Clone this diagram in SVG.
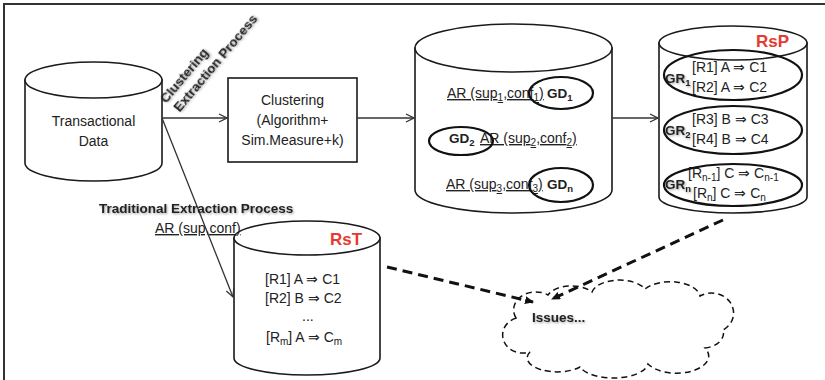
<svg xmlns="http://www.w3.org/2000/svg" width="825" height="380" viewBox="0 0 825 380">
<style>
  text { font-family: "Liberation Sans", Arial, sans-serif; fill: #222; }
  .t { font-size: 14px; }
  .b { font-size: 13.5px; font-weight: bold; }
  .red { font-size: 17px; font-weight: bold; fill: #e53a32; }
  .u { text-decoration: underline; }
  .shape { fill: #fff; stroke: #1a1a1a; stroke-width: 1.6; }
  .ring { fill: none; stroke: #111; stroke-width: 2.2; }
  .conn { fill: none; stroke: #333; stroke-width: 1.3; }
  .dash { fill: none; stroke: #111; stroke-width: 3; stroke-dasharray: 10 6; }
  .sh { filter: url(#shadow); }
</style>
<defs>
  <marker id="open" markerWidth="10" markerHeight="10" refX="9" refY="5" orient="auto" markerUnits="userSpaceOnUse">
    <path d="M1,1 L9,5 L1,9" fill="none" stroke="#333" stroke-width="1.3"/>
  </marker>
  <marker id="tri" markerWidth="10" markerHeight="10" refX="8" refY="4" orient="auto" markerUnits="userSpaceOnUse">
    <path d="M0,0 L9,4 L0,8 Z" fill="#111"/>
  </marker>
  <filter id="shadow" x="-10%" y="-30%" width="120%" height="160%">
    <feDropShadow dx="1" dy="1.2" stdDeviation="1" flood-color="#000" flood-opacity="0.35"/>
  </filter>
</defs>

<g id="frame">
  <path d="M4,380 L4,4 L825,4" fill="none" stroke="#333" stroke-width="2"/>
</g>

<g id="transactional-data">
  <path class="shape" d="M25,80 L25,163 A68.5,18 0 0 0 162,163 L162,80 Z"/>
  <ellipse class="shape" cx="93.5" cy="80" rx="68.5" ry="18"/>
  <text class="t" x="93.5" y="126" text-anchor="middle">Transactional</text>
  <text class="t" x="93.5" y="146" text-anchor="middle">Data</text>
</g>

<g id="clustering">
  <rect class="shape" x="228" y="78" width="129" height="84"/>
  <text class="t" x="292.5" y="105" text-anchor="middle">Clustering</text>
  <text class="t" x="292.5" y="125" text-anchor="middle">(Algorithm+</text>
  <text class="t" x="292.5" y="145" text-anchor="middle">Sim.Measure+k)</text>
</g>

<g id="grouped-db">
  <path class="shape" d="M415,48 L415,190 A98.5,23 0 0 0 612,190 L612,48 Z"/>
  <ellipse class="shape" cx="513.5" cy="48" rx="98.5" ry="24"/>
  <text class="t u" x="447" y="98">AR (sup<tspan dy="3" font-size="10">1</tspan><tspan dy="-3">,conf</tspan><tspan dy="3" font-size="10">1</tspan><tspan dy="-3">)</tspan></text>
  <text class="b" x="547" y="98">GD<tspan dy="3" font-size="9.5">1</tspan></text>
  <ellipse class="ring" cx="561" cy="93" rx="32" ry="16"/>
  <text class="b" x="449" y="143">GD<tspan dy="3" font-size="9.5">2</tspan></text>
  <text class="t u" x="480" y="143">AR (sup<tspan dy="3" font-size="10">2</tspan><tspan dy="-3">,conf</tspan><tspan dy="3" font-size="10">2</tspan><tspan dy="-3">)</tspan></text>
  <ellipse class="ring" cx="461" cy="141" rx="32" ry="14"/>
  <text class="t u" x="446" y="189">AR (sup<tspan dy="3" font-size="10">3</tspan><tspan dy="-3">,conf</tspan><tspan dy="3" font-size="10">3</tspan><tspan dy="-3">)</tspan></text>
  <text class="b" x="547" y="189">GD<tspan dy="3" font-size="9.5">n</tspan></text>
  <ellipse class="ring" cx="561" cy="185" rx="32" ry="17"/>
</g>

<g id="rsp">
  <path class="shape" d="M659,43 L659,197 A74,16 0 0 0 807,197 L807,43 Z"/>
  <ellipse class="shape" cx="733" cy="43" rx="74" ry="17"/>
  <text class="red" x="756" y="47">RsP</text>
  <text class="t" x="692" y="72">[R1] A ⇒ C1</text>
  <text class="t" x="692" y="92">[R2] A ⇒ C2</text>
  <text class="b sh" x="665" y="83">GR<tspan dy="3" font-size="9.5">1</tspan></text>
  <ellipse class="ring" cx="733" cy="75" rx="69" ry="25"/>
  <text class="t" x="692" y="124">[R3] B ⇒ C3</text>
  <text class="t" x="692" y="144">[R4] B ⇒ C4</text>
  <text class="b sh" x="665" y="135">GR<tspan dy="3" font-size="9.5">2</tspan></text>
  <ellipse class="ring" cx="733" cy="130" rx="69" ry="24"/>
  <text class="t" x="688" y="178">[R<tspan dy="3" font-size="10">n-1</tspan><tspan dy="-3">] C ⇒ C</tspan><tspan dy="3" font-size="10">n-1</tspan></text>
  <text class="t" x="693" y="198">[R<tspan dy="3" font-size="10">n</tspan><tspan dy="-3">] C ⇒ C</tspan><tspan dy="3" font-size="10">n</tspan></text>
  <text class="b sh" x="665" y="189">GR<tspan dy="3" font-size="9.5">n</tspan></text>
  <ellipse class="ring" cx="733" cy="185" rx="69" ry="21"/>
</g>

<g id="rst">
  <path class="shape" d="M234,238 L234,358 A73,17 0 0 0 380,358 L380,238 Z"/>
  <ellipse class="shape" cx="307" cy="238" rx="73" ry="17"/>
  <text class="red" x="330" y="245">RsT</text>
  <text class="t" x="265" y="284">[R1] A ⇒ C1</text>
  <text class="t" x="265" y="303">[R2] B ⇒ C2</text>
  <text class="t" x="302" y="321">...</text>
  <text class="t" x="266" y="342">[R<tspan dy="3" font-size="10">m</tspan><tspan dy="-3">] A ⇒ C</tspan><tspan dy="3" font-size="10">m</tspan></text>
</g>

<g id="issues">
  <path d="M516,318 A22,18 0 0 1 548,295 A25,14 0 0 1 592,292 A28,15 0 0 1 645,289 A30,16 0 0 1 700,296 A20,18 0 0 1 723,330 A22,15 0 0 1 705,348 A30,16 0 0 1 648,364 A35,16 0 0 1 580,367 A30,14 0 0 1 530,352 A18,16 0 0 1 516,318 Z" fill="#fff" stroke="#111" stroke-width="1.5" stroke-dasharray="6 4"/>
  <text class="b sh" x="532" y="322">Issues...</text>
</g>

<g id="connectors">
  <line class="conn" x1="162" y1="118" x2="227" y2="118" marker-end="url(#open)"/>
  <line class="conn" x1="357" y1="118" x2="414" y2="118" marker-end="url(#open)"/>
  <line class="conn" x1="612" y1="118" x2="658" y2="118" marker-end="url(#open)"/>
  <line class="conn" x1="162" y1="118" x2="233" y2="297" marker-end="url(#open)"/>
  <line class="dash" x1="387" y1="267" x2="533" y2="302" marker-end="url(#tri)"/>
  <line class="dash" x1="723" y1="220" x2="552" y2="299" marker-end="url(#tri)"/>
  <text class="b sh" transform="translate(166,104) rotate(-50)"><tspan x="0" y="0">Clustering</tspan><tspan x="2" y="16">Extraction Process</tspan></text>
  <text class="b sh" x="99" y="213">Traditional Extraction Process</text>
  <text class="t u" x="155" y="233">AR (sup,conf)</text>
</g>
</svg>
